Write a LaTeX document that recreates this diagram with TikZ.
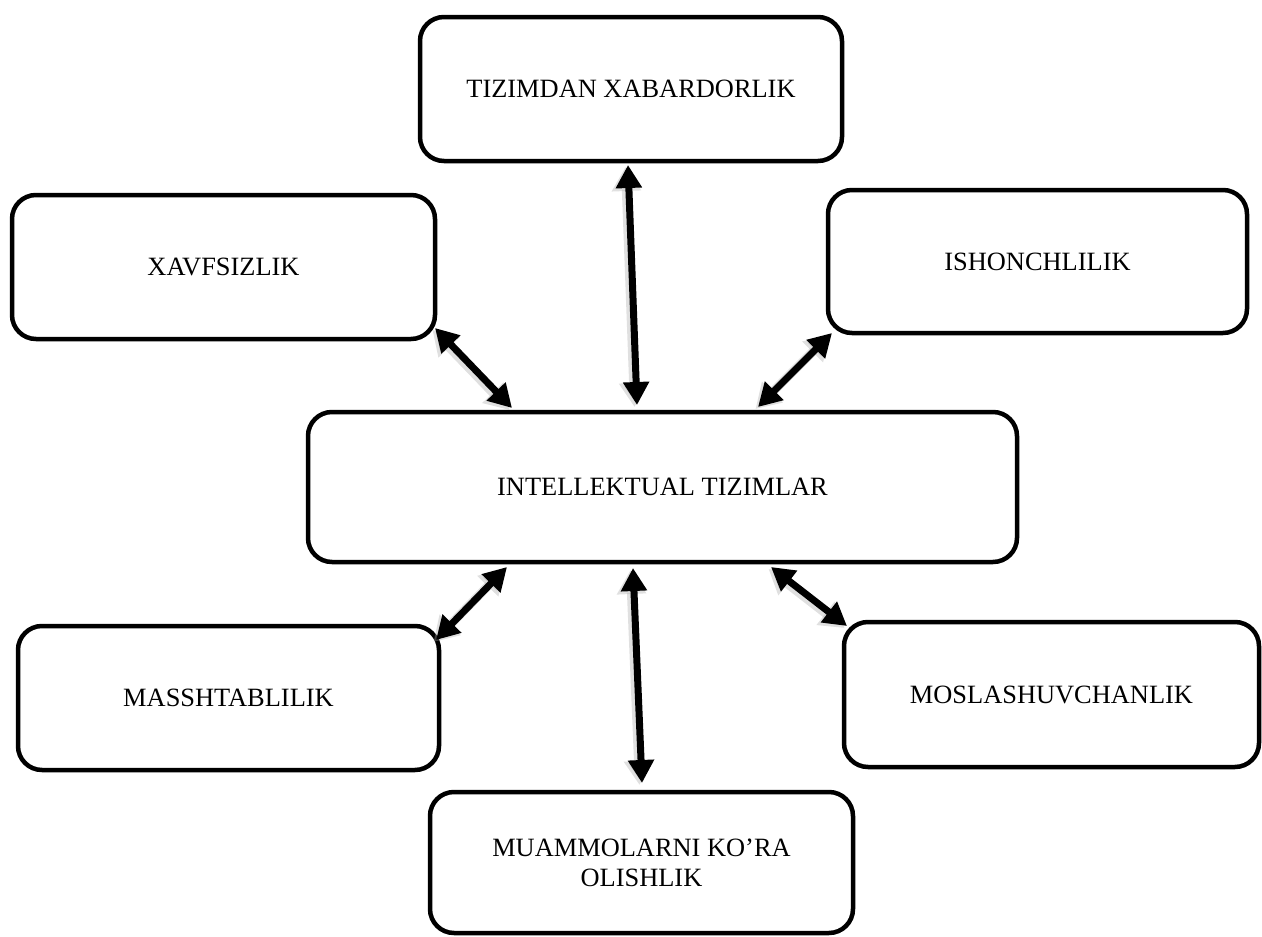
\documentclass[tikz,border=0pt]{standalone}
\usepackage{fontspec}
\setmainfont{Liberation Serif}
\usetikzlibrary{arrows.meta,calc}
% double-headed connector with a soft shadow underneath
\newcommand\twoway[2]{%
  \draw[linkshade] (#1) -- (#2);
  \draw[link] (#1) -- (#2);}
\begin{document}
\begin{tikzpicture}[x=1pt,y=-1pt,
  box/.style={draw, line width=4.5pt, rounded corners=24pt, align=center,
    inner sep=0pt, outer sep=0pt, font=\fontsize{26.4}{30}\selectfont},
  link/.style={line width=7pt,
    {Triangle[length=23pt,width=25pt]}-{Triangle[length=23pt,width=25pt]}},
  linkshade/.style={line width=9pt, draw=black!35, fill=black!35, opacity=0.35,
    {Triangle[length=24pt,width=28pt]}-{Triangle[length=24pt,width=28pt]},
    transform canvas={xshift=-2.5pt,yshift=-2pt}}
]
\useasboundingbox (0,0) rectangle (1262,937);

% boxes
\node[box, minimum width=422pt, minimum height=144pt] (tz) at (631,89) {TIZIMDAN XABARDORLIK};
\node[box, minimum width=423pt, minimum height=144pt] (xavf) at (223.5,267) {XAVFSIZLIK};
\node[box, minimum width=419pt, minimum height=143pt] (ishon) at (1037.5,261.5) {ISHONCHLILIK};
\node[box, minimum width=709pt, minimum height=150pt] (c) at (662.5,487) {INTELLEKTUAL TIZIMLAR};
\node[box, minimum width=421pt, minimum height=144pt] (mass) at (228.5,698) {MASSHTABLILIK};
\node[box, minimum width=415pt, minimum height=145pt] (mosl) at (1051.5,694.5) {MOSLASHUVCHANLIK};
\node[box, minimum width=423pt, minimum height=141pt] (muam) at (641.5,862.5) {MUAMMOLARNI KO’RA\\OLISHLIK};

% connectors
\twoway{$(tz.south)+(-3,4)$}{$(c.north)+(-25.5,-7)$}
\twoway{$(xavf.south east)+(0,-11)$}{$(c.north)+(-150.5,-4)$}
\twoway{$(ishon.south west)+(4,0)$}{$(c.north)+(95.5,-5)$}
\twoway{$(c.south)+(-155.5,5)$}{$(mass.north east)+(-3,14)$}
\twoway{$(c.south)+(108.5,5)$}{$(mosl.north west)+(3,4)$}
\twoway{$(c.south)+(-29.5,6)$}{$(muam.north)+(0.5,-9)$}
\end{tikzpicture}
\end{document}
